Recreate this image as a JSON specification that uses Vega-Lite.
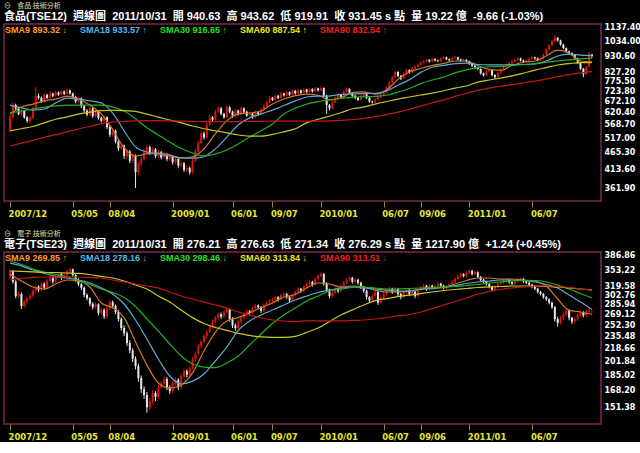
{"$schema":"https://vega.github.io/schema/vega-lite/v6.json","background":"#000000","padding":{"left":3,"top":1,"right":0,"bottom":0},
"config":{"view":{"stroke":"#7a2a52","strokeWidth":1.5},"font":"Liberation Sans","axisY":{"grid":false,"domain":false,"ticks":false,"labelPadding":3,"labelColor":"#ffffff","labelFont":"DejaVu Sans","labelFontWeight":"bold","labelFontSize":8,"labelOverlap":false,"format":".2f","title":null}},
"datasets":{
"k":[
{"d":"2007-12-03","o":548,"h":615,"l":540,"c":600,"o2":340,"h2":356,"l2":336,"c2":352},
{"d":"2007-12-10","o":600,"h":668,"l":596,"c":655,"o2":352,"h2":354,"l2":326,"c2":330},
{"d":"2007-12-17","o":655,"h":662,"l":632,"c":640,"o2":330,"h2":333,"l2":298,"c2":302},
{"d":"2007-12-24","o":640,"h":646,"l":610,"c":615,"o2":302,"h2":310,"l2":299,"c2":306},
{"d":"2007-12-31","o":615,"h":636,"l":608,"c":628,"o2":306,"h2":309,"l2":279,"c2":284},
{"d":"2008-01-07","o":628,"h":632,"l":594,"c":600,"o2":284,"h2":295,"l2":281,"c2":292},
{"d":"2008-01-14","o":600,"h":606,"l":578,"c":585,"o2":292,"h2":301,"l2":288,"c2":298},
{"d":"2008-01-21","o":585,"h":605,"l":576,"c":598,"o2":298,"h2":306,"l2":294,"c2":303},
{"d":"2008-01-28","o":598,"h":648,"l":594,"c":640,"o2":303,"h2":316,"l2":300,"c2":312},
{"d":"2008-02-04","o":640,"h":745,"l":635,"c":700,"o2":312,"h2":324,"l2":309,"c2":320},
{"d":"2008-02-11","o":700,"h":712,"l":682,"c":690,"o2":320,"h2":323,"l2":310,"c2":314},
{"d":"2008-02-18","o":690,"h":696,"l":664,"c":672,"o2":314,"h2":330,"l2":311,"c2":326},
{"d":"2008-02-25","o":672,"h":714,"l":668,"c":705,"o2":326,"h2":329,"l2":314,"c2":318},
{"d":"2008-03-03","o":705,"h":710,"l":684,"c":690,"o2":318,"h2":336,"l2":315,"c2":332},
{"d":"2008-03-10","o":690,"h":720,"l":686,"c":712,"o2":332,"h2":342,"l2":328,"c2":338},
{"d":"2008-03-17","o":712,"h":716,"l":692,"c":700,"o2":338,"h2":341,"l2":326,"c2":330},
{"d":"2008-03-24","o":700,"h":726,"l":696,"c":718,"o2":330,"h2":346,"l2":327,"c2":342},
{"d":"2008-03-31","o":718,"h":722,"l":700,"c":706,"o2":342,"h2":350,"l2":339,"c2":346},
{"d":"2008-04-07","o":706,"h":730,"l":702,"c":722,"o2":346,"h2":348,"l2":334,"c2":338},
{"d":"2008-04-14","o":722,"h":726,"l":704,"c":710,"o2":338,"h2":347,"l2":335,"c2":343},
{"d":"2008-04-21","o":710,"h":738,"l":706,"c":728,"o2":343,"h2":356,"l2":340,"c2":352},
{"d":"2008-04-28","o":728,"h":732,"l":706,"c":712,"o2":352,"h2":360,"l2":349,"c2":356},
{"d":"2008-05-05","o":712,"h":716,"l":688,"c":695,"o2":356,"h2":358,"l2":340,"c2":344},
{"d":"2008-05-12","o":695,"h":700,"l":664,"c":672,"o2":344,"h2":347,"l2":330,"c2":334},
{"d":"2008-05-19","o":672,"h":696,"l":666,"c":688,"o2":334,"h2":337,"l2":321,"c2":325},
{"d":"2008-05-26","o":688,"h":692,"l":642,"c":650,"o2":325,"h2":328,"l2":314,"c2":318},
{"d":"2008-06-02","o":650,"h":655,"l":622,"c":630,"o2":318,"h2":320,"l2":300,"c2":304},
{"d":"2008-06-09","o":630,"h":636,"l":604,"c":612,"o2":304,"h2":307,"l2":294,"c2":298},
{"d":"2008-06-16","o":612,"h":648,"l":606,"c":640,"o2":298,"h2":300,"l2":284,"c2":288},
{"d":"2008-06-23","o":640,"h":645,"l":598,"c":605,"o2":288,"h2":291,"l2":278,"c2":282},
{"d":"2008-06-30","o":605,"h":633,"l":600,"c":625,"o2":282,"h2":291,"l2":279,"c2":287},
{"d":"2008-07-07","o":625,"h":630,"l":590,"c":598,"o2":287,"h2":289,"l2":268,"c2":272},
{"d":"2008-07-14","o":598,"h":604,"l":578,"c":585,"o2":272,"h2":281,"l2":269,"c2":277},
{"d":"2008-07-21","o":585,"h":608,"l":580,"c":600,"o2":277,"h2":280,"l2":262,"c2":266},
{"d":"2008-07-28","o":600,"h":605,"l":552,"c":560,"o2":266,"h2":284,"l2":263,"c2":280},
{"d":"2008-08-04","o":560,"h":566,"l":522,"c":530,"o2":280,"h2":295,"l2":277,"c2":291},
{"d":"2008-08-11","o":530,"h":552,"l":524,"c":545,"o2":291,"h2":294,"l2":280,"c2":284},
{"d":"2008-08-18","o":545,"h":550,"l":498,"c":505,"o2":284,"h2":287,"l2":270,"c2":274},
{"d":"2008-08-25","o":505,"h":510,"l":472,"c":480,"o2":274,"h2":277,"l2":258,"c2":262},
{"d":"2008-09-01","o":480,"h":498,"l":474,"c":490,"o2":262,"h2":265,"l2":244,"c2":248},
{"d":"2008-09-08","o":490,"h":494,"l":446,"c":455,"o2":248,"h2":252,"l2":236,"c2":240},
{"d":"2008-09-15","o":455,"h":478,"l":445,"c":470,"o2":240,"h2":243,"l2":222,"c2":226},
{"d":"2008-09-22","o":470,"h":475,"l":432,"c":440,"o2":226,"h2":230,"l2":212,"c2":216},
{"d":"2008-09-29","o":440,"h":462,"l":434,"c":455,"o2":216,"h2":219,"l2":201,"c2":205},
{"d":"2008-10-06","o":455,"h":460,"l":362,"c":405,"o2":205,"h2":208,"l2":192,"c2":196},
{"d":"2008-10-13","o":405,"h":438,"l":398,"c":430,"o2":196,"h2":199,"l2":178,"c2":182},
{"d":"2008-10-20","o":430,"h":452,"l":424,"c":445,"o2":182,"h2":185,"l2":166,"c2":170},
{"d":"2008-10-27","o":445,"h":478,"l":440,"c":470,"o2":170,"h2":173,"l2":160,"c2":164},
{"d":"2008-11-03","o":470,"h":494,"l":464,"c":485,"o2":164,"h2":167,"l2":147,"c2":152},
{"d":"2008-11-10","o":485,"h":490,"l":458,"c":465,"o2":152,"h2":161,"l2":149,"c2":158},
{"d":"2008-11-17","o":465,"h":486,"l":460,"c":478,"o2":158,"h2":169,"l2":155,"c2":166},
{"d":"2008-11-24","o":478,"h":482,"l":448,"c":455,"o2":166,"h2":168,"l2":158,"c2":162},
{"d":"2008-12-01","o":455,"h":476,"l":450,"c":468,"o2":162,"h2":175,"l2":160,"c2":172},
{"d":"2008-12-08","o":468,"h":472,"l":444,"c":450,"o2":172,"h2":179,"l2":170,"c2":176},
{"d":"2008-12-15","o":450,"h":468,"l":446,"c":460,"o2":176,"h2":184,"l2":174,"c2":181},
{"d":"2008-12-22","o":460,"h":464,"l":438,"c":445,"o2":181,"h2":183,"l2":169,"c2":172},
{"d":"2008-12-29","o":445,"h":460,"l":440,"c":452,"o2":172,"h2":174,"l2":165,"c2":168},
{"d":"2009-01-05","o":452,"h":456,"l":428,"c":435,"o2":168,"h2":179,"l2":166,"c2":176},
{"d":"2009-01-12","o":435,"h":452,"l":430,"c":445,"o2":176,"h2":183,"l2":174,"c2":180},
{"d":"2009-01-19","o":445,"h":449,"l":418,"c":425,"o2":180,"h2":182,"l2":169,"c2":172},
{"d":"2009-01-26","o":425,"h":440,"l":420,"c":432,"o2":172,"h2":187,"l2":170,"c2":184},
{"d":"2009-02-02","o":432,"h":436,"l":406,"c":412,"o2":184,"h2":193,"l2":182,"c2":190},
{"d":"2009-02-09","o":412,"h":425,"l":406,"c":418,"o2":190,"h2":192,"l2":183,"c2":186},
{"d":"2009-02-16","o":418,"h":422,"l":398,"c":405,"o2":186,"h2":197,"l2":184,"c2":194},
{"d":"2009-02-23","o":405,"h":448,"l":401,"c":440,"o2":194,"h2":207,"l2":192,"c2":204},
{"d":"2009-03-02","o":440,"h":478,"l":436,"c":470,"o2":204,"h2":215,"l2":202,"c2":212},
{"d":"2009-03-09","o":470,"h":508,"l":466,"c":500,"o2":212,"h2":225,"l2":210,"c2":222},
{"d":"2009-03-16","o":500,"h":544,"l":496,"c":535,"o2":222,"h2":231,"l2":219,"c2":228},
{"d":"2009-03-23","o":535,"h":542,"l":512,"c":520,"o2":228,"h2":239,"l2":226,"c2":236},
{"d":"2009-03-30","o":520,"h":578,"l":516,"c":570,"o2":236,"h2":245,"l2":233,"c2":242},
{"d":"2009-04-06","o":570,"h":610,"l":565,"c":600,"o2":242,"h2":253,"l2":240,"c2":250},
{"d":"2009-04-13","o":600,"h":606,"l":582,"c":590,"o2":250,"h2":261,"l2":247,"c2":258},
{"d":"2009-04-20","o":590,"h":634,"l":586,"c":625,"o2":258,"h2":267,"l2":255,"c2":264},
{"d":"2009-04-27","o":625,"h":650,"l":620,"c":640,"o2":264,"h2":273,"l2":261,"c2":270},
{"d":"2009-05-04","o":640,"h":646,"l":608,"c":615,"o2":270,"h2":273,"l2":262,"c2":266},
{"d":"2009-05-11","o":615,"h":620,"l":594,"c":600,"o2":266,"h2":277,"l2":263,"c2":274},
{"d":"2009-05-18","o":600,"h":654,"l":596,"c":645,"o2":274,"h2":282,"l2":271,"c2":278},
{"d":"2009-05-25","o":645,"h":650,"l":618,"c":625,"o2":278,"h2":280,"l2":258,"c2":262},
{"d":"2009-06-01","o":625,"h":630,"l":598,"c":605,"o2":262,"h2":265,"l2":248,"c2":252},
{"d":"2009-06-08","o":605,"h":638,"l":600,"c":630,"o2":252,"h2":255,"l2":244,"c2":248},
{"d":"2009-06-15","o":630,"h":634,"l":608,"c":615,"o2":248,"h2":261,"l2":246,"c2":258},
{"d":"2009-06-22","o":615,"h":648,"l":610,"c":640,"o2":258,"h2":267,"l2":255,"c2":264},
{"d":"2009-06-29","o":640,"h":645,"l":618,"c":625,"o2":264,"h2":273,"l2":261,"c2":270},
{"d":"2009-07-06","o":625,"h":630,"l":602,"c":608,"o2":270,"h2":278,"l2":267,"c2":275},
{"d":"2009-07-13","o":608,"h":626,"l":604,"c":618,"o2":275,"h2":277,"l2":268,"c2":272},
{"d":"2009-07-20","o":618,"h":622,"l":594,"c":600,"o2":272,"h2":283,"l2":270,"c2":280},
{"d":"2009-07-27","o":600,"h":630,"l":596,"c":622,"o2":280,"h2":288,"l2":277,"c2":285},
{"d":"2009-08-03","o":622,"h":627,"l":606,"c":612,"o2":285,"h2":287,"l2":279,"c2":282},
{"d":"2009-08-10","o":612,"h":643,"l":608,"c":635,"o2":282,"h2":284,"l2":272,"c2":276},
{"d":"2009-08-17","o":635,"h":658,"l":630,"c":650,"o2":276,"h2":289,"l2":274,"c2":286},
{"d":"2009-08-24","o":650,"h":676,"l":645,"c":668,"o2":286,"h2":293,"l2":283,"c2":290},
{"d":"2009-08-31","o":668,"h":698,"l":664,"c":690,"o2":290,"h2":297,"l2":287,"c2":294},
{"d":"2009-09-07","o":690,"h":695,"l":674,"c":680,"o2":294,"h2":299,"l2":291,"c2":296},
{"d":"2009-09-14","o":680,"h":708,"l":676,"c":700,"o2":296,"h2":303,"l2":293,"c2":300},
{"d":"2009-09-21","o":700,"h":705,"l":684,"c":690,"o2":300,"h2":302,"l2":292,"c2":296},
{"d":"2009-09-28","o":690,"h":720,"l":686,"c":712,"o2":296,"h2":307,"l2":294,"c2":304},
{"d":"2009-10-05","o":712,"h":716,"l":696,"c":702,"o2":304,"h2":309,"l2":301,"c2":306},
{"d":"2009-10-12","o":702,"h":726,"l":698,"c":718,"o2":306,"h2":308,"l2":297,"c2":300},
{"d":"2009-10-19","o":718,"h":722,"l":700,"c":706,"o2":300,"h2":302,"l2":290,"c2":294},
{"d":"2009-10-26","o":706,"h":733,"l":702,"c":725,"o2":294,"h2":307,"l2":292,"c2":304},
{"d":"2009-11-02","o":725,"h":730,"l":706,"c":712,"o2":304,"h2":313,"l2":301,"c2":310},
{"d":"2009-11-09","o":712,"h":736,"l":708,"c":728,"o2":310,"h2":319,"l2":307,"c2":316},
{"d":"2009-11-16","o":728,"h":732,"l":710,"c":716,"o2":316,"h2":318,"l2":308,"c2":312},
{"d":"2009-11-23","o":716,"h":740,"l":712,"c":732,"o2":312,"h2":323,"l2":309,"c2":320},
{"d":"2009-11-30","o":732,"h":736,"l":714,"c":720,"o2":320,"h2":329,"l2":317,"c2":326},
{"d":"2009-12-07","o":720,"h":743,"l":716,"c":735,"o2":326,"h2":333,"l2":323,"c2":330},
{"d":"2009-12-14","o":735,"h":739,"l":716,"c":722,"o2":330,"h2":332,"l2":320,"c2":324},
{"d":"2009-12-21","o":722,"h":746,"l":718,"c":738,"o2":324,"h2":339,"l2":322,"c2":336},
{"d":"2009-12-28","o":738,"h":742,"l":722,"c":728,"o2":336,"h2":345,"l2":333,"c2":342},
{"d":"2010-01-04","o":728,"h":748,"l":724,"c":740,"o2":342,"h2":350,"l2":339,"c2":346},
{"d":"2010-01-11","o":740,"h":744,"l":694,"c":700,"o2":346,"h2":348,"l2":322,"c2":326},
{"d":"2010-01-18","o":700,"h":705,"l":615,"c":655,"o2":326,"h2":329,"l2":310,"c2":314},
{"d":"2010-01-25","o":655,"h":660,"l":630,"c":640,"o2":314,"h2":316,"l2":298,"c2":302},
{"d":"2010-02-01","o":640,"h":676,"l":636,"c":668,"o2":302,"h2":311,"l2":299,"c2":308},
{"d":"2010-02-08","o":668,"h":698,"l":664,"c":690,"o2":308,"h2":319,"l2":306,"c2":316},
{"d":"2010-02-15","o":690,"h":712,"l":686,"c":705,"o2":316,"h2":318,"l2":308,"c2":312},
{"d":"2010-02-22","o":705,"h":708,"l":688,"c":695,"o2":312,"h2":325,"l2":310,"c2":322},
{"d":"2010-03-01","o":695,"h":728,"l":690,"c":720,"o2":322,"h2":331,"l2":319,"c2":328},
{"d":"2010-03-08","o":720,"h":744,"l":716,"c":735,"o2":328,"h2":337,"l2":325,"c2":334},
{"d":"2010-03-15","o":735,"h":739,"l":708,"c":715,"o2":334,"h2":341,"l2":331,"c2":338},
{"d":"2010-03-22","o":715,"h":719,"l":694,"c":700,"o2":338,"h2":340,"l2":326,"c2":330},
{"d":"2010-03-29","o":700,"h":705,"l":684,"c":690,"o2":330,"h2":337,"l2":327,"c2":334},
{"d":"2010-04-05","o":690,"h":694,"l":674,"c":680,"o2":334,"h2":336,"l2":324,"c2":328},
{"d":"2010-04-12","o":680,"h":706,"l":676,"c":698,"o2":328,"h2":330,"l2":316,"c2":320},
{"d":"2010-04-19","o":698,"h":716,"l":694,"c":708,"o2":320,"h2":322,"l2":308,"c2":312},
{"d":"2010-04-26","o":708,"h":712,"l":684,"c":690,"o2":312,"h2":314,"l2":296,"c2":300},
{"d":"2010-05-03","o":690,"h":694,"l":666,"c":672,"o2":300,"h2":302,"l2":290,"c2":294},
{"d":"2010-05-10","o":672,"h":676,"l":662,"c":668,"o2":294,"h2":306,"l2":292,"c2":302},
{"d":"2010-05-17","o":668,"h":690,"l":664,"c":682,"o2":302,"h2":314,"l2":300,"c2":310},
{"d":"2010-05-24","o":682,"h":703,"l":678,"c":695,"o2":310,"h2":312,"l2":286,"c2":290},
{"d":"2010-05-31","o":695,"h":713,"l":690,"c":705,"o2":290,"h2":302,"l2":288,"c2":298},
{"d":"2010-06-07","o":705,"h":726,"l":700,"c":718,"o2":298,"h2":310,"l2":296,"c2":306},
{"d":"2010-06-14","o":718,"h":750,"l":714,"c":742,"o2":306,"h2":316,"l2":303,"c2":312},
{"d":"2010-06-21","o":742,"h":778,"l":738,"c":770,"o2":312,"h2":320,"l2":309,"c2":316},
{"d":"2010-06-28","o":770,"h":808,"l":765,"c":800,"o2":316,"h2":318,"l2":306,"c2":310},
{"d":"2010-07-05","o":800,"h":838,"l":795,"c":830,"o2":310,"h2":320,"l2":308,"c2":316},
{"d":"2010-07-12","o":830,"h":835,"l":800,"c":808,"o2":316,"h2":318,"l2":302,"c2":306},
{"d":"2010-07-19","o":808,"h":813,"l":784,"c":792,"o2":306,"h2":308,"l2":296,"c2":300},
{"d":"2010-07-26","o":792,"h":828,"l":788,"c":820,"o2":300,"h2":313,"l2":298,"c2":310},
{"d":"2010-08-02","o":820,"h":850,"l":815,"c":842,"o2":310,"h2":317,"l2":307,"c2":314},
{"d":"2010-08-09","o":842,"h":847,"l":820,"c":828,"o2":314,"h2":316,"l2":302,"c2":306},
{"d":"2010-08-16","o":828,"h":860,"l":823,"c":852,"o2":306,"h2":313,"l2":304,"c2":310},
{"d":"2010-08-23","o":852,"h":870,"l":847,"c":862,"o2":310,"h2":312,"l2":298,"c2":302},
{"d":"2010-08-30","o":862,"h":883,"l":857,"c":875,"o2":302,"h2":317,"l2":300,"c2":314},
{"d":"2010-09-06","o":875,"h":896,"l":870,"c":888,"o2":314,"h2":321,"l2":311,"c2":318},
{"d":"2010-09-13","o":888,"h":904,"l":883,"c":896,"o2":318,"h2":325,"l2":315,"c2":322},
{"d":"2010-09-20","o":896,"h":913,"l":891,"c":905,"o2":322,"h2":324,"l2":312,"c2":316},
{"d":"2010-09-27","o":905,"h":910,"l":888,"c":895,"o2":316,"h2":325,"l2":313,"c2":322},
{"d":"2010-10-04","o":895,"h":918,"l":890,"c":910,"o2":322,"h2":324,"l2":315,"c2":318},
{"d":"2010-10-11","o":910,"h":915,"l":895,"c":902,"o2":318,"h2":324,"l2":315,"c2":321},
{"d":"2010-10-18","o":902,"h":907,"l":890,"c":898,"o2":321,"h2":329,"l2":318,"c2":326},
{"d":"2010-10-25","o":898,"h":923,"l":893,"c":915,"o2":326,"h2":328,"l2":319,"c2":322},
{"d":"2010-11-01","o":915,"h":930,"l":910,"c":922,"o2":322,"h2":324,"l2":315,"c2":318},
{"d":"2010-11-08","o":922,"h":927,"l":903,"c":910,"o2":318,"h2":324,"l2":315,"c2":321},
{"d":"2010-11-15","o":910,"h":915,"l":896,"c":903,"o2":321,"h2":328,"l2":318,"c2":325},
{"d":"2010-11-22","o":903,"h":924,"l":898,"c":916,"o2":325,"h2":333,"l2":322,"c2":330},
{"d":"2010-11-29","o":916,"h":930,"l":911,"c":922,"o2":330,"h2":339,"l2":327,"c2":336},
{"d":"2010-12-06","o":922,"h":927,"l":900,"c":908,"o2":336,"h2":344,"l2":333,"c2":341},
{"d":"2010-12-13","o":908,"h":913,"l":893,"c":900,"o2":341,"h2":349,"l2":338,"c2":346},
{"d":"2010-12-20","o":900,"h":914,"l":895,"c":906,"o2":346,"h2":348,"l2":339,"c2":342},
{"d":"2010-12-27","o":906,"h":911,"l":888,"c":895,"o2":342,"h2":352,"l2":339,"c2":349},
{"d":"2011-01-03","o":895,"h":900,"l":873,"c":880,"o2":349,"h2":356,"l2":346,"c2":353},
{"d":"2011-01-10","o":880,"h":885,"l":861,"c":868,"o2":353,"h2":355,"l2":343,"c2":346},
{"d":"2011-01-17","o":868,"h":873,"l":851,"c":858,"o2":346,"h2":353,"l2":343,"c2":350},
{"d":"2011-01-24","o":858,"h":863,"l":841,"c":848,"o2":350,"h2":352,"l2":337,"c2":340},
{"d":"2011-01-31","o":848,"h":853,"l":815,"c":822,"o2":340,"h2":342,"l2":331,"c2":334},
{"d":"2011-02-07","o":822,"h":827,"l":803,"c":810,"o2":334,"h2":336,"l2":327,"c2":330},
{"d":"2011-02-14","o":810,"h":840,"l":805,"c":832,"o2":330,"h2":332,"l2":322,"c2":325},
{"d":"2011-02-21","o":832,"h":850,"l":827,"c":842,"o2":325,"h2":327,"l2":317,"c2":320},
{"d":"2011-02-28","o":842,"h":847,"l":805,"c":812,"o2":320,"h2":322,"l2":311,"c2":314},
{"d":"2011-03-07","o":812,"h":817,"l":790,"c":800,"o2":314,"h2":323,"l2":311,"c2":320},
{"d":"2011-03-14","o":800,"h":833,"l":795,"c":825,"o2":320,"h2":329,"l2":317,"c2":326},
{"d":"2011-03-21","o":825,"h":853,"l":820,"c":845,"o2":326,"h2":332,"l2":323,"c2":329},
{"d":"2011-03-28","o":845,"h":870,"l":840,"c":862,"o2":329,"h2":335,"l2":326,"c2":332},
{"d":"2011-04-04","o":862,"h":880,"l":857,"c":872,"o2":332,"h2":337,"l2":329,"c2":334},
{"d":"2011-04-11","o":872,"h":892,"l":867,"c":884,"o2":334,"h2":336,"l2":326,"c2":329},
{"d":"2011-04-18","o":884,"h":903,"l":879,"c":895,"o2":329,"h2":331,"l2":323,"c2":326},
{"d":"2011-04-25","o":895,"h":913,"l":890,"c":905,"o2":326,"h2":334,"l2":323,"c2":331},
{"d":"2011-05-02","o":905,"h":922,"l":900,"c":914,"o2":331,"h2":337,"l2":328,"c2":334},
{"d":"2011-05-09","o":914,"h":919,"l":895,"c":902,"o2":334,"h2":339,"l2":331,"c2":336},
{"d":"2011-05-16","o":902,"h":907,"l":886,"c":893,"o2":336,"h2":338,"l2":328,"c2":331},
{"d":"2011-05-23","o":893,"h":908,"l":888,"c":900,"o2":331,"h2":333,"l2":325,"c2":328},
{"d":"2011-05-30","o":900,"h":920,"l":895,"c":912,"o2":328,"h2":330,"l2":321,"c2":324},
{"d":"2011-06-06","o":912,"h":930,"l":907,"c":922,"o2":324,"h2":326,"l2":317,"c2":320},
{"d":"2011-06-13","o":922,"h":927,"l":908,"c":915,"o2":320,"h2":322,"l2":313,"c2":316},
{"d":"2011-06-20","o":915,"h":920,"l":896,"c":903,"o2":316,"h2":318,"l2":307,"c2":310},
{"d":"2011-06-27","o":903,"h":920,"l":898,"c":912,"o2":310,"h2":312,"l2":303,"c2":306},
{"d":"2011-07-04","o":912,"h":948,"l":907,"c":940,"o2":306,"h2":308,"l2":297,"c2":300},
{"d":"2011-07-11","o":940,"h":984,"l":935,"c":975,"o2":300,"h2":302,"l2":293,"c2":296},
{"d":"2011-07-18","o":975,"h":1015,"l":970,"c":1005,"o2":296,"h2":298,"l2":287,"c2":290},
{"d":"2011-07-25","o":1005,"h":1045,"l":1000,"c":1035,"o2":290,"h2":292,"l2":279,"c2":282},
{"d":"2011-08-01","o":1035,"h":1080,"l":1028,"c":1060,"o2":282,"h2":284,"l2":258,"c2":262},
{"d":"2011-08-08","o":1060,"h":1066,"l":1032,"c":1040,"o2":262,"h2":266,"l2":250,"c2":256},
{"d":"2011-08-15","o":1040,"h":1046,"l":1002,"c":1010,"o2":256,"h2":267,"l2":253,"c2":264},
{"d":"2011-08-22","o":1010,"h":1016,"l":978,"c":985,"o2":264,"h2":273,"l2":261,"c2":270},
{"d":"2011-08-29","o":985,"h":990,"l":955,"c":962,"o2":270,"h2":279,"l2":267,"c2":276},
{"d":"2011-09-05","o":962,"h":968,"l":943,"c":950,"o2":276,"h2":278,"l2":260,"c2":264},
{"d":"2011-09-12","o":950,"h":955,"l":931,"c":938,"o2":264,"h2":266,"l2":254,"c2":258},
{"d":"2011-09-19","o":938,"h":943,"l":908,"c":915,"o2":258,"h2":265,"l2":255,"c2":262},
{"d":"2011-09-26","o":915,"h":920,"l":878,"c":885,"o2":262,"h2":272,"l2":259,"c2":269},
{"d":"2011-10-03","o":885,"h":890,"l":843,"c":850,"o2":269,"h2":276,"l2":266,"c2":273},
{"d":"2011-10-10","o":850,"h":855,"l":800,"c":818,"o2":273,"h2":275,"l2":265,"c2":268},
{"d":"2011-10-17","o":818,"h":868,"l":813,"c":860,"o2":268,"h2":278,"l2":265,"c2":275},
{"d":"2011-10-24","o":862,"h":958,"l":858,"c":945,"o2":275,"h2":279,"l2":272,"c2":276.21},
{"d":"2011-10-31","o":940.63,"h":943.62,"l":919.91,"c":931.45,"o2":276.21,"h2":276.63,"l2":271.34,"c2":276.29}
],
"m1":[
{"d":"2007-12-03","SMA9":615,"SMA18":655,"SMA30":619,"SMA60":545,"SMA90":489},
{"d":"2007-12-31","SMA9":646,"SMA18":642,"SMA30":628,"SMA60":553,"SMA90":499},
{"d":"2008-01-28","SMA9":660,"SMA18":632,"SMA30":637,"SMA60":562,"SMA90":509},
{"d":"2008-02-25","SMA9":675,"SMA18":637,"SMA30":646,"SMA60":577,"SMA90":520},
{"d":"2008-03-24","SMA9":684,"SMA18":665,"SMA30":651,"SMA60":592,"SMA90":530},
{"d":"2008-04-21","SMA9":699,"SMA18":689,"SMA30":655,"SMA60":602,"SMA90":541},
{"d":"2008-05-19","SMA9":684,"SMA18":684,"SMA30":655,"SMA60":614,"SMA90":552},
{"d":"2008-06-16","SMA9":655,"SMA18":675,"SMA30":655,"SMA60":623,"SMA90":563},
{"d":"2008-07-14","SMA9":615,"SMA18":665,"SMA30":655,"SMA60":630,"SMA90":574},
{"d":"2008-08-11","SMA9":550,"SMA18":619,"SMA30":646,"SMA60":631,"SMA90":580},
{"d":"2008-09-08","SMA9":482,"SMA18":545,"SMA30":628,"SMA60":630,"SMA90":583},
{"d":"2008-10-06","SMA9":455,"SMA18":486,"SMA30":594,"SMA60":626,"SMA90":585},
{"d":"2008-11-03","SMA9":462,"SMA18":468,"SMA30":557,"SMA60":614,"SMA90":586},
{"d":"2008-12-01","SMA9":465,"SMA18":462,"SMA30":529,"SMA60":601,"SMA90":586},
{"d":"2008-12-29","SMA9":459,"SMA18":455,"SMA30":503,"SMA60":589,"SMA90":585},
{"d":"2009-01-26","SMA9":448,"SMA18":450,"SMA30":480,"SMA60":577,"SMA90":584},
{"d":"2009-02-23","SMA9":452,"SMA18":448,"SMA30":465,"SMA60":564,"SMA90":583},
{"d":"2009-03-23","SMA9":479,"SMA18":453,"SMA30":455,"SMA60":553,"SMA90":582},
{"d":"2009-04-20","SMA9":533,"SMA18":479,"SMA30":462,"SMA60":545,"SMA90":582},
{"d":"2009-05-18","SMA9":585,"SMA18":521,"SMA30":475,"SMA60":537,"SMA90":582},
{"d":"2009-06-15","SMA9":615,"SMA18":568,"SMA30":496,"SMA60":529,"SMA90":582},
{"d":"2009-07-13","SMA9":619,"SMA18":598,"SMA30":521,"SMA60":525,"SMA90":583},
{"d":"2009-08-10","SMA9":628,"SMA18":615,"SMA30":545,"SMA60":525,"SMA90":583},
{"d":"2009-09-07","SMA9":660,"SMA18":632,"SMA30":572,"SMA60":531,"SMA90":584},
{"d":"2009-10-05","SMA9":684,"SMA18":653,"SMA30":615,"SMA60":541,"SMA90":584},
{"d":"2009-11-02","SMA9":701,"SMA18":675,"SMA30":641,"SMA60":553,"SMA90":584},
{"d":"2009-11-30","SMA9":709,"SMA18":694,"SMA30":660,"SMA60":577,"SMA90":584},
{"d":"2009-12-28","SMA9":703,"SMA18":699,"SMA30":672,"SMA60":592,"SMA90":584},
{"d":"2010-01-25","SMA9":680,"SMA18":699,"SMA30":680,"SMA60":605,"SMA90":585},
{"d":"2010-02-22","SMA9":689,"SMA18":707,"SMA30":688,"SMA60":620,"SMA90":587},
{"d":"2010-03-22","SMA9":716,"SMA18":709,"SMA30":692,"SMA60":638,"SMA90":590},
{"d":"2010-04-19","SMA9":720,"SMA18":712,"SMA30":695,"SMA60":646,"SMA90":596},
{"d":"2010-05-17","SMA9":709,"SMA18":712,"SMA30":697,"SMA60":660,"SMA90":603},
{"d":"2010-06-14","SMA9":730,"SMA18":725,"SMA30":703,"SMA60":672,"SMA90":612},
{"d":"2010-07-12","SMA9":787,"SMA18":755,"SMA30":719,"SMA60":684,"SMA90":623},
{"d":"2010-08-09","SMA9":830,"SMA18":786,"SMA30":738,"SMA60":694,"SMA90":636},
{"d":"2010-09-06","SMA9":851,"SMA18":828,"SMA30":764,"SMA60":704,"SMA90":650},
{"d":"2010-10-04","SMA9":870,"SMA18":859,"SMA30":784,"SMA60":714,"SMA90":666},
{"d":"2010-11-01","SMA9":882,"SMA18":870,"SMA30":800,"SMA60":726,"SMA90":680},
{"d":"2010-11-29","SMA9":898,"SMA18":882,"SMA30":825,"SMA60":740,"SMA90":697},
{"d":"2010-12-27","SMA9":898,"SMA18":885,"SMA30":843,"SMA60":751,"SMA90":713},
{"d":"2011-01-24","SMA9":870,"SMA18":876,"SMA30":856,"SMA60":772,"SMA90":728},
{"d":"2011-02-21","SMA9":846,"SMA18":873,"SMA30":862,"SMA60":784,"SMA90":740},
{"d":"2011-03-21","SMA9":840,"SMA18":873,"SMA30":864,"SMA60":795,"SMA90":750},
{"d":"2011-04-18","SMA9":870,"SMA18":876,"SMA30":870,"SMA60":807,"SMA90":758},
{"d":"2011-05-16","SMA9":890,"SMA18":876,"SMA30":876,"SMA60":823,"SMA90":768},
{"d":"2011-06-13","SMA9":898,"SMA18":880,"SMA30":880,"SMA60":841,"SMA90":778},
{"d":"2011-07-11","SMA9":931,"SMA18":898,"SMA30":890,"SMA60":857,"SMA90":790},
{"d":"2011-08-08","SMA9":971,"SMA18":931,"SMA30":898,"SMA60":873,"SMA90":803},
{"d":"2011-09-05","SMA9":951,"SMA18":943,"SMA30":906,"SMA60":882,"SMA90":815},
{"d":"2011-10-03","SMA9":898,"SMA18":937,"SMA30":912,"SMA60":888,"SMA90":825},
{"d":"2011-10-31","SMA9":893.32,"SMA18":933.57,"SMA30":916.65,"SMA60":887.54,"SMA90":832.54}
],
"m2":[
{"d":"2007-12-03","SMA9":346.2,"SMA18":370,"SMA30":375,"SMA60":352.7,"SMA90":333.6},
{"d":"2007-12-31","SMA9":331.5,"SMA18":364,"SMA30":367,"SMA60":351.6,"SMA90":336.7},
{"d":"2008-01-28","SMA9":319.4,"SMA18":354.7,"SMA30":357,"SMA60":350.5,"SMA90":338.8},
{"d":"2008-02-25","SMA9":315.5,"SMA18":347.3,"SMA30":350.5,"SMA60":349.4,"SMA90":339.8},
{"d":"2008-03-24","SMA9":325.4,"SMA18":341,"SMA30":345.1,"SMA60":349.4,"SMA90":339.8},
{"d":"2008-04-21","SMA9":333.6,"SMA18":337.7,"SMA30":339.8,"SMA60":348.3,"SMA90":339.8},
{"d":"2008-05-19","SMA9":331.5,"SMA18":333.6,"SMA30":332.5,"SMA60":347.3,"SMA90":339.8},
{"d":"2008-06-16","SMA9":319.4,"SMA18":327.4,"SMA30":324.4,"SMA60":345.1,"SMA90":338.8},
{"d":"2008-07-14","SMA9":289.4,"SMA18":317.5,"SMA30":315.5,"SMA60":341,"SMA90":337.7},
{"d":"2008-08-11","SMA9":281,"SMA18":305.9,"SMA30":308.7,"SMA60":337.7,"SMA90":333.6},
{"d":"2008-09-08","SMA9":264.4,"SMA18":287.6,"SMA30":299.5,"SMA60":331.5,"SMA90":329.5},
{"d":"2008-10-06","SMA9":227.5,"SMA18":260.6,"SMA30":283.2,"SMA60":323.4,"SMA90":325.4},
{"d":"2008-11-03","SMA9":197.2,"SMA18":231.7,"SMA30":262.2,"SMA60":315.5,"SMA90":321.4},
{"d":"2008-12-01","SMA9":176.6,"SMA18":204.8,"SMA30":243.4,"SMA60":302.1,"SMA90":317.5},
{"d":"2008-12-29","SMA9":171.1,"SMA18":184.4,"SMA30":224.7,"SMA60":291.1,"SMA90":309.7},
{"d":"2009-01-26","SMA9":174.4,"SMA18":175.5,"SMA30":208.6,"SMA60":276.9,"SMA90":302.2},
{"d":"2009-02-23","SMA9":187.9,"SMA18":178.6,"SMA30":198.5,"SMA60":264.4,"SMA90":296.6},
{"d":"2009-03-23","SMA9":215.1,"SMA18":186.7,"SMA30":194.8,"SMA60":254.9,"SMA90":291.1},
{"d":"2009-04-20","SMA9":241.9,"SMA18":202.3,"SMA30":194.2,"SMA60":248.8,"SMA90":285.8},
{"d":"2009-05-18","SMA9":259,"SMA18":220.5,"SMA30":199.8,"SMA60":244.3,"SMA90":280.5},
{"d":"2009-06-15","SMA9":264.4,"SMA18":244.3,"SMA30":208.6,"SMA60":239.8,"SMA90":273.8},
{"d":"2009-07-13","SMA9":272.1,"SMA18":259,"SMA30":223.3,"SMA60":236.9,"SMA90":268.8},
{"d":"2009-08-10","SMA9":281,"SMA18":268.8,"SMA30":239,"SMA60":234.7,"SMA90":263.8},
{"d":"2009-09-07","SMA9":289.4,"SMA18":277.1,"SMA30":254.9,"SMA60":234,"SMA90":260.6},
{"d":"2009-10-05","SMA9":300.3,"SMA18":285.8,"SMA30":268.8,"SMA60":234,"SMA90":259},
{"d":"2009-11-02","SMA9":305,"SMA18":294.8,"SMA30":280.5,"SMA60":235.4,"SMA90":258.2},
{"d":"2009-11-30","SMA9":317.5,"SMA18":302.1,"SMA30":293,"SMA60":241.3,"SMA90":259},
{"d":"2009-12-28","SMA9":327.4,"SMA18":308.7,"SMA30":302.1,"SMA60":248.1,"SMA90":259},
{"d":"2010-01-25","SMA9":325.4,"SMA18":313.5,"SMA30":311.6,"SMA60":258.2,"SMA90":259},
{"d":"2010-02-22","SMA9":319.4,"SMA18":317.5,"SMA30":315.5,"SMA60":268.8,"SMA90":259},
{"d":"2010-03-22","SMA9":321.4,"SMA18":319.4,"SMA30":318.5,"SMA60":277.3,"SMA90":259.8},
{"d":"2010-04-19","SMA9":319.4,"SMA18":317.5,"SMA30":319.4,"SMA60":285.8,"SMA90":260.6},
{"d":"2010-05-17","SMA9":313.5,"SMA18":315.5,"SMA30":317.5,"SMA60":293.8,"SMA90":262.2},
{"d":"2010-06-14","SMA9":309.7,"SMA18":313.5,"SMA30":315.5,"SMA60":297.4,"SMA90":264.6},
{"d":"2010-07-12","SMA9":309.7,"SMA18":311.6,"SMA30":315.5,"SMA60":301.1,"SMA90":267.3},
{"d":"2010-08-09","SMA9":311.6,"SMA18":311.6,"SMA30":316.5,"SMA60":303.8,"SMA90":269.6},
{"d":"2010-09-06","SMA9":315.5,"SMA18":314.6,"SMA30":317.5,"SMA60":306.8,"SMA90":273.8},
{"d":"2010-10-04","SMA9":317.5,"SMA18":316.5,"SMA30":318.5,"SMA60":309.7,"SMA90":279.7},
{"d":"2010-11-01","SMA9":318.5,"SMA18":318.5,"SMA30":319.4,"SMA60":312.6,"SMA90":285.8},
{"d":"2010-11-29","SMA9":325.4,"SMA18":322.4,"SMA30":320.4,"SMA60":314.6,"SMA90":292},
{"d":"2010-12-27","SMA9":332.5,"SMA18":326.4,"SMA30":322.4,"SMA60":316.5,"SMA90":298.4},
{"d":"2011-01-24","SMA9":337.7,"SMA18":329.5,"SMA30":324.4,"SMA60":318.5,"SMA90":305.9},
{"d":"2011-02-21","SMA9":337.7,"SMA18":331.5,"SMA30":327.4,"SMA60":319.4,"SMA90":310.7},
{"d":"2011-03-21","SMA9":335.6,"SMA18":333.6,"SMA30":329.5,"SMA60":320.4,"SMA90":314.5},
{"d":"2011-04-18","SMA9":335.6,"SMA18":333.6,"SMA30":331.5,"SMA60":321.4,"SMA90":317.5},
{"d":"2011-05-16","SMA9":333.6,"SMA18":332.5,"SMA30":332.5,"SMA60":321.4,"SMA90":319.4},
{"d":"2011-06-13","SMA9":331.5,"SMA18":329.5,"SMA30":332.5,"SMA60":321.4,"SMA90":321.4},
{"d":"2011-07-11","SMA9":321.4,"SMA18":324.4,"SMA30":329.5,"SMA60":320.4,"SMA90":321.4},
{"d":"2011-08-08","SMA9":296.6,"SMA18":317.5,"SMA30":323.4,"SMA60":319.4,"SMA90":320.4},
{"d":"2011-09-05","SMA9":276.9,"SMA18":304,"SMA30":315.5,"SMA60":317.5,"SMA90":318.5},
{"d":"2011-10-03","SMA9":273.8,"SMA18":291.1,"SMA30":306.8,"SMA60":315.5,"SMA90":315.5},
{"d":"2011-10-31","SMA9":269.85,"SMA18":278.16,"SMA30":298.46,"SMA60":313.84,"SMA90":313.51}
]},
"vconcat":[
{"width":597,"height":177,
"title":{"text":"⊖\u00a0\u00a0\u00a0\u00a0食品 技術分析","subtitle":"食品(TSE12)\u00a0 週線圖\u00a0 2011/10/31\u00a0 開 940.63\u00a0 高 943.62\u00a0 低 919.91\u00a0 收 931.45 s 點\u00a0 量 19.22 億\u00a0 -9.66 (-1.03%)","anchor":"start","frame":"group","font":"Noto Sans CJK TC","fontSize":7,"fontWeight":"normal","color":"#e6e0b0","subtitleFont":"Liberation Sans, Noto Sans CJK TC","subtitleFontSize":11,"subtitleFontWeight":"bold","subtitleColor":"#ffffff","subtitlePadding":2,"offset":2},
"encoding":{"x":{"field":"d","type":"temporal","title":null,
"scale":{"type":"utc","domain":[{"year":2007,"month":11,"date":30,"hours":12,"utc":true},{"year":2011,"month":11,"date":10,"utc":true}]},
"axis":{"values":[{"year":2007,"month":12,"date":3,"utc":true},{"year":2008,"month":5,"date":5,"utc":true},{"year":2008,"month":8,"date":4,"utc":true},{"year":2009,"month":1,"date":5,"utc":true},{"year":2009,"month":6,"date":1,"utc":true},{"year":2009,"month":9,"date":7,"utc":true},{"year":2010,"month":1,"date":4,"utc":true},{"year":2010,"month":6,"date":7,"utc":true},{"year":2010,"month":9,"date":6,"utc":true},{"year":2011,"month":1,"date":3,"utc":true},{"year":2011,"month":6,"date":7,"utc":true}],
"labelExpr":"utcFormat(datum.value, (utcmonth(datum.value)==0 || utcyear(datum.value)==2007) ? '%Y/%m' : '%m/%d')",
"grid":false,"domain":false,"tickColor":"#8c8c28","tickSize":6,"labelColor":"#e6e632","labelFont":"DejaVu Sans","labelFontWeight":"bold","labelFontSize":8.5,"labelAlign":"left","labelOffset":-2,"labelPadding":2,"labelOverlap":false}}},
"layer":[
{"data":{"name":"k"},"mark":{"type":"rule","strokeWidth":1},"encoding":{"y":{"field":"l","type":"quantitative","title":null,"scale":{"type":"log","domain":[329.8,1170.4],"nice":false,"zero":false},"axis":{"orient":"right","values":[1137.4,1034,930.6,827.2,775.5,723.8,672.1,620.4,568.7,517,465.3,413.6,361.9]}},"y2":{"field":"h"},"color":{"condition":{"test":"datum.c >= datum.o","value":"#e01010"},"value":"#e6e6e6"}}},
{"data":{"name":"k"},"mark":{"type":"bar","size":2},"encoding":{"y":{"field":"o","type":"quantitative","title":null,"scale":{"type":"log","domain":[329.8,1170.4],"nice":false,"zero":false},"axis":{"orient":"right","values":[1137.4,1034,930.6,827.2,775.5,723.8,672.1,620.4,568.7,517,465.3,413.6,361.9]}},"y2":{"field":"c"},"color":{"condition":{"test":"datum.c >= datum.o","value":"#e01010"},"value":"#e6e6e6"}}},
{"data":{"name":"m1"},"transform":[{"fold":["SMA9","SMA18","SMA30","SMA60","SMA90"],"as":["s","v"]}],"mark":{"type":"line","interpolate":"monotone","strokeWidth":1.2},"encoding":{"y":{"field":"v","type":"quantitative","title":null,"scale":{"type":"log","domain":[329.8,1170.4],"nice":false,"zero":false},"axis":{"orient":"right","values":[1137.4,1034,930.6,827.2,775.5,723.8,672.1,620.4,568.7,517,465.3,413.6,361.9]}},"color":{"field":"s","type":"nominal","scale":{"domain":["SMA9","SMA18","SMA30","SMA60","SMA90"],"range":["#d07a20","#5fa8d0","#22b022","#c8c820","#c01818"]},"legend":{"orient":"top-left","direction":"horizontal","title":null,"offset":1,"padding":0,"symbolType":"circle","symbolSize":1,"symbolStrokeWidth":0,"symbolOpacity":0,"labelOffset":-9,"columnPadding":12,"labelFont":"Liberation Sans","labelFontWeight":"bold","labelFontSize":9,"labelExpr":"datum.value=='SMA9'?'SMA9 893.32 ↓':datum.value=='SMA18'?'SMA18 933.57 ↑':datum.value=='SMA30'?'SMA30 916.65 ↑':datum.value=='SMA60'?'SMA60 887.54 ↑':'SMA90 832.54 ↑'","labelColor":{"expr":"datum.value=='SMA9'?'#ff9a2a':datum.value=='SMA18'?'#58b8ea':datum.value=='SMA30'?'#20e020':datum.value=='SMA60'?'#e8e820':'#ee2020'"}}}}}
]},
{"width":597,"height":172,
"title":{"text":"⊖\u00a0\u00a0\u00a0\u00a0電子 技術分析","subtitle":"電子(TSE23)\u00a0 週線圖\u00a0 2011/10/31\u00a0 開 276.21\u00a0 高 276.63\u00a0 低 271.34\u00a0 收 276.29 s 點\u00a0 量 1217.90 億\u00a0 +1.24 (+0.45%)","anchor":"start","frame":"group","font":"Noto Sans CJK TC","fontSize":7,"fontWeight":"normal","color":"#e6e0b0","subtitleFont":"Liberation Sans, Noto Sans CJK TC","subtitleFontSize":11,"subtitleFontWeight":"bold","subtitleColor":"#ffffff","subtitlePadding":2,"offset":2},
"encoding":{"x":{"field":"d","type":"temporal","title":null,
"scale":{"type":"utc","domain":[{"year":2007,"month":11,"date":30,"hours":12,"utc":true},{"year":2011,"month":11,"date":10,"utc":true}]},
"axis":{"values":[{"year":2007,"month":12,"date":3,"utc":true},{"year":2008,"month":5,"date":5,"utc":true},{"year":2008,"month":8,"date":4,"utc":true},{"year":2009,"month":1,"date":5,"utc":true},{"year":2009,"month":6,"date":1,"utc":true},{"year":2009,"month":9,"date":7,"utc":true},{"year":2010,"month":1,"date":4,"utc":true},{"year":2010,"month":6,"date":7,"utc":true},{"year":2010,"month":9,"date":6,"utc":true},{"year":2011,"month":1,"date":3,"utc":true},{"year":2011,"month":6,"date":7,"utc":true}],
"labelExpr":"utcFormat(datum.value, (utcmonth(datum.value)==0 || utcyear(datum.value)==2007) ? '%Y/%m' : '%m/%d')",
"grid":false,"domain":false,"tickColor":"#8c8c28","tickSize":6,"labelColor":"#e6e632","labelFont":"DejaVu Sans","labelFontWeight":"bold","labelFontSize":8.5,"labelAlign":"left","labelOffset":-2,"labelPadding":2,"labelOverlap":false}}},
"layer":[
{"data":{"name":"k"},"mark":{"type":"rule","strokeWidth":1},"encoding":{"y":{"field":"l2","type":"quantitative","title":null,"scale":{"type":"log","domain":[137.1,396.5],"nice":false,"zero":false},"axis":{"orient":"right","values":[386.86,353.22,319.58,302.76,285.94,269.12,252.3,235.48,218.66,201.84,185.02,168.2,151.38]}},"y2":{"field":"h2"},"color":{"condition":{"test":"datum.c2 >= datum.o2","value":"#e01010"},"value":"#e6e6e6"}}},
{"data":{"name":"k"},"mark":{"type":"bar","size":2},"encoding":{"y":{"field":"o2","type":"quantitative","title":null,"scale":{"type":"log","domain":[137.1,396.5],"nice":false,"zero":false},"axis":{"orient":"right","values":[386.86,353.22,319.58,302.76,285.94,269.12,252.3,235.48,218.66,201.84,185.02,168.2,151.38]}},"y2":{"field":"c2"},"color":{"condition":{"test":"datum.c2 >= datum.o2","value":"#e01010"},"value":"#e6e6e6"}}},
{"data":{"name":"m2"},"transform":[{"fold":["SMA9","SMA18","SMA30","SMA60","SMA90"],"as":["s","v"]}],"mark":{"type":"line","interpolate":"monotone","strokeWidth":1.2},"encoding":{"y":{"field":"v","type":"quantitative","title":null,"scale":{"type":"log","domain":[137.1,396.5],"nice":false,"zero":false},"axis":{"orient":"right","values":[386.86,353.22,319.58,302.76,285.94,269.12,252.3,235.48,218.66,201.84,185.02,168.2,151.38]}},"color":{"field":"s","type":"nominal","scale":{"domain":["SMA9","SMA18","SMA30","SMA60","SMA90"],"range":["#d07a20","#5fa8d0","#22b022","#c8c820","#c01818"]},"legend":{"orient":"top-left","direction":"horizontal","title":null,"offset":1,"padding":0,"symbolType":"circle","symbolSize":1,"symbolStrokeWidth":0,"symbolOpacity":0,"labelOffset":-9,"columnPadding":12,"labelFont":"Liberation Sans","labelFontWeight":"bold","labelFontSize":9,"labelExpr":"datum.value=='SMA9'?'SMA9 269.85 ↑':datum.value=='SMA18'?'SMA18 278.16 ↓':datum.value=='SMA30'?'SMA30 298.46 ↓':datum.value=='SMA60'?'SMA60 313.84 ↓':'SMA90 313.51 ↓'","labelColor":{"expr":"datum.value=='SMA9'?'#ff9a2a':datum.value=='SMA18'?'#58b8ea':datum.value=='SMA30'?'#20e020':datum.value=='SMA60'?'#e8e820':'#ee2020'"}}}}}
]}
],
"spacing":10,
"resolve":{"scale":{"color":"independent","y":"independent","x":"independent"},"legend":{"color":"independent"}}
}
